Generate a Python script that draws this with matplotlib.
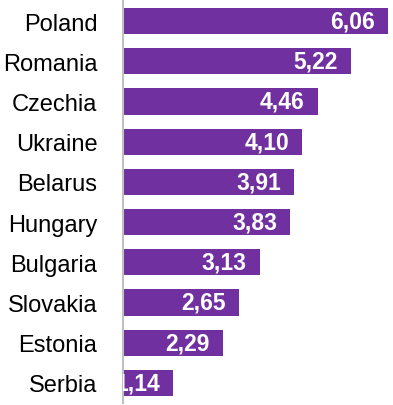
import matplotlib.pyplot as plt

countries = ["Poland", "Romania", "Czechia", "Ukraine", "Belarus",
             "Hungary", "Bulgaria", "Slovakia", "Estonia", "Serbia"]
values = [6.06, 5.22, 4.46, 4.10, 3.91, 3.83, 3.13, 2.65, 2.29, 1.14]
labels = ["6,06", "5,22", "4,46", "4,10", "3,91",
          "3,83", "3,13", "2,65", "2,29", "1,14"]

fam = ["Liberation Sans", "DejaVu Sans"]

fig = plt.figure(figsize=(3.93, 4.06), dpi=100)
ax = fig.add_axes([123 / 393, 2 / 406, 270 / 393, 402 / 406])

y = list(range(len(countries)))
ax.barh(y, values, height=0.65, color="#7030A0")
ax.set_ylim(len(countries) - 0.5, -0.5)
ax.set_xlim(0, 6.18)

for yi, v, lab in zip(y, values, labels):
    ax.annotate(lab, (v, yi), xytext=(-13, 0), textcoords="offset pixels",
                ha="right", va="center", color="white", fontsize=16.5,
                fontweight="bold", family=fam, annotation_clip=False,
                clip_on=True)

ax.set_yticks(y)
ax.set_yticklabels(countries, fontsize=17, family=fam)
ax.tick_params(axis="y", length=0, pad=18.5)
ax.set_xticks([])
for s in ["top", "right", "bottom"]:
    ax.spines[s].set_visible(False)
ax.spines["left"].set_color("#c0c0c0")
ax.spines["left"].set_linewidth(1.5)

fig.savefig("out.png", dpi=100)
